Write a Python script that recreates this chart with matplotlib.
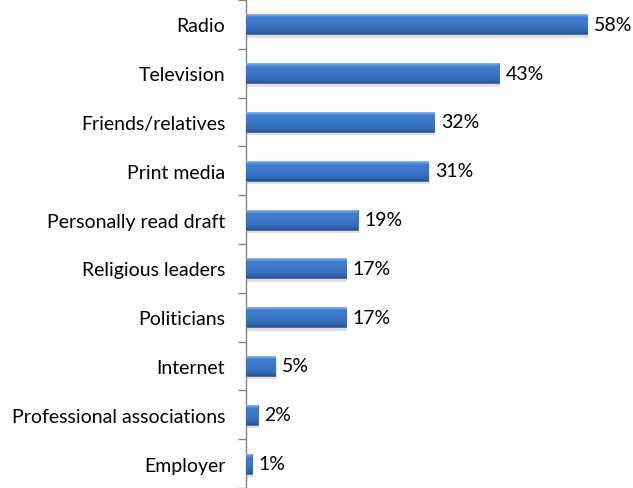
import numpy as np
import matplotlib
matplotlib.use("Agg")
import matplotlib.pyplot as plt
from matplotlib.colors import LinearSegmentedColormap

categories = ["Radio", "Television", "Friends/relatives", "Print media",
              "Personally read draft", "Religious leaders", "Politicians",
              "Internet", "Professional associations", "Employer"]
values = [58, 43, 32, 31, 19, 17, 17, 5, 2, 1]

plt.rcParams["font.family"] = ["Lato", "DejaVu Sans"]
FS = 14

fig = plt.figure(figsize=(6.33, 4.89), dpi=100)
ax = fig.add_axes([246 / 633, 0.0, 353 / 633, 1 - 1 / 489])

y = np.arange(len(categories))
h = 0.41

# vertical gradient for the bars (light top edge, dark bottom edge)
cmap = LinearSegmentedColormap.from_list(
    "bar", [(0.0, "#a8cdf5"), (0.1, "#6ea3e4"), (0.2, "#3f7dd2"),
            (0.6, "#3a75c6"), (0.85, "#3368b2"), (1.0, "#285490")])
grad = np.linspace(0, 1, 64).reshape(-1, 1)

# soft shadow below / right of each bar
ax.barh(y + 0.07, values, height=h, left=0.2, color="#000000", alpha=0.12,
        zorder=1)
bars = ax.barh(y, values, height=h, color="#3a75c6", edgecolor="#2b5c9c",
               linewidth=0.5, zorder=2)
for bar in bars:
    x0, yb = bar.get_x(), bar.get_y()
    w, hh = bar.get_width(), bar.get_height()
    im = ax.imshow(grad, cmap=cmap, aspect="auto", origin="upper",
                   extent=(x0, x0 + w, yb + hh, yb), zorder=3)
    im.set_clip_path(bar)

for yi, v in zip(y, values):
    ax.text(v + 1.1, yi, f"{v}%", ha="left", va="center", fontsize=FS,
            color="black", zorder=4)

ax.set_xlim(0, 60)
ax.set_ylim(len(categories) - 0.5, -0.5)
ax.set_yticks(y)
ax.set_yticklabels(categories, fontsize=FS)
ax.set_yticks(np.arange(len(categories) + 1) - 0.5, minor=True)
ax.tick_params(axis="y", which="major", length=0, pad=15)
ax.tick_params(axis="y", which="minor", length=6, color="#868686", width=1)
ax.set_xticks([])
for s in ["top", "right", "bottom"]:
    ax.spines[s].set_visible(False)
ax.spines["left"].set_color("#868686")
ax.spines["left"].set_linewidth(1)

fig.savefig("out.png", dpi=100)
